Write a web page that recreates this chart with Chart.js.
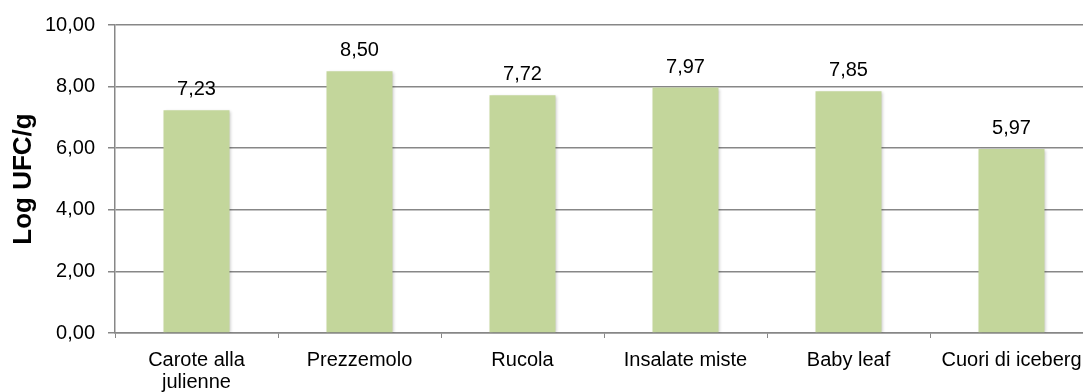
<!DOCTYPE html>
<html>
<head>
<meta charset="utf-8">
<script src="https://cdn.jsdelivr.net/npm/chart.js@4/dist/chart.umd.min.js"></script>
<style>
  html, body { margin: 0; padding: 0; background: #fff; overflow: hidden; }
  #wrap { width: 1083px; height: 392px; overflow: hidden; position: relative; }
  #box { width: 1100px; height: 392px; }
</style>
</head>
<body>
<div id="wrap"><div id="box"><canvas id="chart"></canvas></div></div>
<script>
const categories = [['Carote alla', 'julienne'], 'Prezzemolo', 'Rucola', 'Insalate miste', 'Baby leaf', 'Cuori di iceberg'];
const logUfc = [7.23, 8.50, 7.72, 7.97, 7.85, 5.97];
const yTicks = [0, 2, 4, 6, 8, 10];

const fmt = v => v.toFixed(2).replace('.', ',');
const GRID = '#878787';
const FONT = '"Liberation Sans", Arial, sans-serif';

// soft shadow on the bars
const barShadow = {
  id: 'barShadow',
  beforeDatasetsDraw(chart) {
    const ctx = chart.ctx;
    ctx.save();
    ctx.shadowColor = 'rgba(0,0,0,0.22)';
    ctx.shadowBlur = 3;
    ctx.shadowOffsetX = 1.5;
    ctx.shadowOffsetY = 1;
  },
  afterDatasetsDraw(chart) {
    chart.ctx.restore();
  }
};

// value labels above each bar
const valueLabels = {
  id: 'valueLabels',
  afterDatasetsDraw(chart) {
    const ctx = chart.ctx;
    const meta = chart.getDatasetMeta(0);
    ctx.save();
    ctx.font = '20px ' + FONT;
    ctx.fillStyle = '#000';
    ctx.textAlign = 'center';
    ctx.textBaseline = 'alphabetic';
    meta.data.forEach((bar, i) => {
      ctx.fillText(fmt(logUfc[i]), bar.x, bar.y - 15);
    });
    ctx.restore();
  }
};

new Chart(document.getElementById('chart'), {
  type: 'bar',
  data: {
    labels: categories,
    datasets: [{
      data: logUfc,
      backgroundColor: '#c3d69b',
      borderWidth: 0,
      categoryPercentage: 1,
      barPercentage: 0.405
    }]
  },
  options: {
    responsive: true,
    maintainAspectRatio: false,
    animation: false,
    layout: { padding: { left: 0, right: 7, top: 21, bottom: 0 } },
    plugins: {
      legend: { display: false },
      tooltip: { enabled: false }
    },
    scales: {
      x: {
        grid: {
          offset: true,
          drawOnChartArea: false,
          drawTicks: true,
          tickLength: 5,
          color: GRID
        },
        border: { color: GRID, width: 1.5 },
        ticks: {
          color: '#000',
          padding: 11,
          maxRotation: 0,
          autoSkip: false,
          font: { family: FONT, size: 20, lineHeight: 1.1 }
        },
        afterFit(scale) { scale.height = 59; }
      },
      y: {
        min: 0,
        max: 10,
        afterBuildTicks(scale) { scale.ticks = yTicks.map(v => ({ value: v })); },
        grid: { color: GRID, lineWidth: 1.5, tickLength: 7 },
        border: { color: GRID, width: 1.5 },
        ticks: {
          color: '#000',
          padding: 13,
          callback: v => fmt(v),
          font: { family: FONT, size: 20 }
        },
        title: {
          display: true,
          text: 'Log UFC/g',
          color: '#000',
          padding: { top: 8, bottom: 0 },
          font: { family: FONT, size: 26, weight: 'bold' }
        },
        afterFit(scale) { scale.width = 115; }
      }
    }
  },
  plugins: [barShadow, valueLabels]
});
</script>
</body>
</html>
